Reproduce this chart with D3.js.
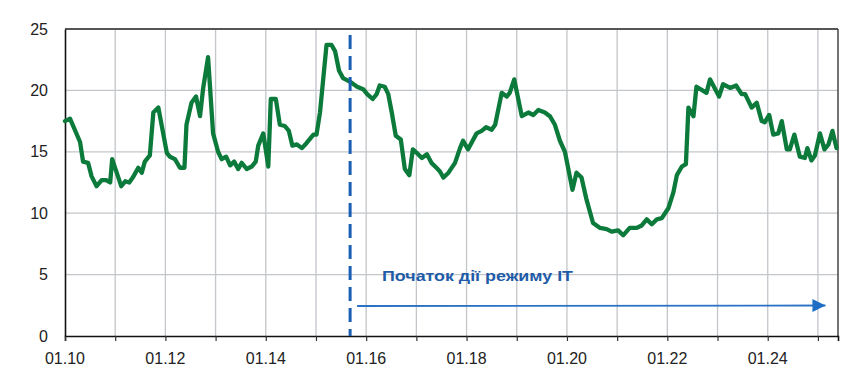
<!DOCTYPE html>
<html>
<head>
<meta charset="utf-8">
<script src="https://cdn.jsdelivr.net/npm/d3@7"></script>
<style>
  html, body { margin: 0; padding: 0; background: #fff; }
  svg { display: block; }
  text { font-family: "Liberation Sans", Arial, sans-serif; }
</style>
</head>
<body>
<svg id="chart" width="855" height="379"></svg>
<script>
// Time (decimal years) and values
const years = [
  2010.00, 2010.10, 2010.30, 2010.36, 2010.46, 2010.53, 2010.63, 2010.73, 2010.82, 2010.90, 2010.94,
  2011.03, 2011.12, 2011.20, 2011.28, 2011.35, 2011.46, 2011.53, 2011.59, 2011.69, 2011.76, 2011.86,
  2012.03, 2012.09, 2012.19, 2012.29, 2012.38, 2012.42, 2012.52, 2012.61, 2012.69, 2012.75, 2012.85, 2012.95,
  2013.05, 2013.12, 2013.21, 2013.29, 2013.37, 2013.45, 2013.52, 2013.62, 2013.72, 2013.80, 2013.85, 2013.95,
  2014.05, 2014.10, 2014.20, 2014.28, 2014.38, 2014.46, 2014.53, 2014.62, 2014.72, 2014.81, 2014.95,
  2015.01, 2015.08, 2015.21, 2015.31, 2015.38, 2015.46, 2015.54, 2015.68, 2015.82, 2015.94,
  2016.02, 2016.13, 2016.21, 2016.27, 2016.37, 2016.44, 2016.51, 2016.59, 2016.69, 2016.77, 2016.86, 2016.93,
  2017.01, 2017.11, 2017.21, 2017.30, 2017.40, 2017.47, 2017.54, 2017.64, 2017.77, 2017.87, 2017.93,
  2018.03, 2018.20, 2018.30, 2018.39, 2018.50, 2018.57, 2018.70, 2018.80, 2018.86, 2018.95,
  2019.10, 2019.23, 2019.33, 2019.43, 2019.56, 2019.66, 2019.76, 2019.86, 2019.96,
  2020.11, 2020.19, 2020.29, 2020.39, 2020.52, 2020.66, 2020.79, 2020.89,
  2021.02, 2021.12, 2021.25, 2021.39, 2021.49, 2021.59, 2021.69, 2021.79, 2021.89,
  2022.02, 2022.12, 2022.19, 2022.29, 2022.37, 2022.42, 2022.52, 2022.58, 2022.70, 2022.78, 2022.85,
  2023.03, 2023.11, 2023.25, 2023.37, 2023.48, 2023.55, 2023.68, 2023.78, 2023.88, 2023.94,
  2024.03, 2024.11, 2024.21, 2024.28, 2024.38, 2024.44, 2024.53, 2024.64, 2024.74, 2024.79, 2024.87, 2024.94,
  2025.04, 2025.13, 2025.21, 2025.29, 2025.37
];
const values = [
  17.5, 17.7, 15.8, 14.2, 14.1, 13.0, 12.2, 12.7, 12.7, 12.5, 14.4,
  13.3, 12.2, 12.6, 12.5, 12.9, 13.7, 13.3, 14.2, 14.7, 18.2, 18.6,
  14.9, 14.6, 14.4, 13.7, 13.7, 17.2, 19.0, 19.5, 17.9, 20.1, 22.7, 16.5,
  15.0, 14.4, 14.6, 13.9, 14.2, 13.6, 14.1, 13.6, 13.8, 14.2, 15.5, 16.5,
  13.8, 19.3, 19.3, 17.2, 17.1, 16.7, 15.5, 15.6, 15.3, 15.7, 16.4,
  16.4, 18.2, 23.7, 23.7, 23.2, 21.6, 21.0, 20.7, 20.3, 20.1,
  19.7, 19.3, 19.7, 20.4, 20.3, 19.7, 18.2, 16.3, 16.0, 13.6, 13.1, 15.2,
  14.9, 14.5, 14.8, 14.1, 13.7, 13.4, 12.9, 13.3, 14.1, 15.3, 15.9,
  15.2, 16.5, 16.7, 17.0, 16.8, 17.2, 19.8, 19.5, 19.8, 20.9,
  17.9, 18.2, 18.0, 18.4, 18.2, 17.9, 17.2, 15.9, 15.0,
  11.9, 13.3, 12.9, 11.1, 9.2, 8.8, 8.7, 8.5,
  8.6, 8.2, 8.8, 8.8, 9.0, 9.5, 9.1, 9.5, 9.6,
  10.4, 11.7, 13.1, 13.8, 14.0, 18.6, 17.9, 20.3, 20.0, 19.8, 20.9,
  19.5, 20.5, 20.2, 20.4, 19.7, 19.7, 18.6, 19.0, 17.5, 17.4,
  18.0, 16.4, 16.5, 17.5, 15.2, 15.2, 16.4, 14.6, 14.5, 15.3, 14.3, 14.7,
  16.5, 15.2, 15.6, 16.7, 15.3
];

const xGridYears = [2010, 2011, 2012, 2013, 2014, 2015, 2016, 2017, 2018, 2019, 2020, 2021, 2022, 2023, 2024, 2025];
const xLabelYears = [2010, 2012, 2014, 2016, 2018, 2020, 2022, 2024];
const xTickLabels = ["01.10", "01.12", "01.14", "01.16", "01.18", "01.20", "01.22", "01.24"];
const yTicks = [0, 5, 10, 15, 20, 25];
const regimeStart = 2015.68;
const arrowEnd = 2025.15;
const regimeLabel = "Початок дії режиму ІТ";

const svg = d3.select("#chart");
const L = 65, R = 838, T = 29, B = 336;

const x = d3.scaleLinear().domain([2010, 2025.40]).range([L, R]);
const y = d3.scaleLinear().domain([0, 25]).range([B, T]);

// grid
const grid = svg.append("g");
grid.selectAll(".vg").data(xGridYears.filter(d => d > 2010)).join("line")
  .attr("x1", d => x(d)).attr("x2", d => x(d))
  .attr("y1", T).attr("y2", B)
  .attr("stroke", "#c3c6ca").attr("stroke-width", 1.3);
grid.selectAll(".hg").data(yTicks.filter(d => d > 0 && d < 25)).join("line")
  .attr("x1", L).attr("x2", R)
  .attr("y1", d => y(d)).attr("y2", d => y(d))
  .attr("stroke", "#c3c6ca").attr("stroke-width", 1.3);

// frame
svg.append("line").attr("x1", L).attr("x2", R).attr("y1", T).attr("y2", T)
  .attr("stroke", "#555").attr("stroke-width", 2);
svg.append("line").attr("x1", R).attr("x2", R).attr("y1", T).attr("y2", B)
  .attr("stroke", "#444").attr("stroke-width", 1.5);

// x axis
const xAxis = d3.axisBottom(x).tickValues(xGridYears).tickSize(5).tickFormat("");
const gx = svg.append("g").attr("transform", `translate(0,${B})`).call(xAxis);
gx.select(".domain").attr("stroke", "#111").attr("stroke-width", 1.6);
gx.selectAll(".tick line").attr("stroke", "#333").attr("stroke-width", 1.2);
svg.append("g").selectAll("text").data(xLabelYears).join("text")
  .attr("x", d => x(d)).attr("y", 364)
  .attr("text-anchor", "middle")
  .attr("font-size", 16).attr("fill", "#222")
  .text((d, i) => xTickLabels[i]);

// y axis
const yAxis = d3.axisLeft(y).tickValues(yTicks).tickSize(0).tickPadding(17);
const gy = svg.append("g").attr("transform", `translate(${L},0)`).call(yAxis);
gy.select(".domain").attr("stroke", "#111").attr("stroke-width", 1.6);
gy.selectAll(".tick text").attr("font-size", 16).attr("fill", "#222")
  .attr("font-family", "Liberation Sans, Arial, sans-serif");

// series line
const line = d3.line().x((d, i) => x(years[i])).y(d => y(d));
svg.append("path").datum(values)
  .attr("fill", "none").attr("stroke", "#0b7a3b")
  .attr("stroke-width", 4.3).attr("stroke-linejoin", "round").attr("stroke-linecap", "round")
  .attr("d", line);

// regime start dashed line
svg.append("line")
  .attr("x1", x(regimeStart)).attr("x2", x(regimeStart))
  .attr("y1", 35).attr("y2", B)
  .attr("stroke", "#1a5fb4").attr("stroke-width", 3)
  .attr("stroke-dasharray", "14,7");

// arrow
const defs = svg.append("defs");
defs.append("marker").attr("id", "arr")
  .attr("viewBox", "0 0 10 10").attr("refX", 10).attr("refY", 5)
  .attr("markerUnits", "userSpaceOnUse")
  .attr("markerWidth", 14).attr("markerHeight", 13).attr("orient", "auto")
  .append("path").attr("d", "M0,0 L10,5 L0,10 Z").attr("fill", "#1f6cc4");
svg.append("line")
  .attr("x1", x(regimeStart) + 7).attr("x2", x(arrowEnd))
  .attr("y1", 306).attr("y2", 305.5)
  .attr("stroke", "#2a72c6").attr("stroke-width", 1.8)
  .attr("marker-end", "url(#arr)");

svg.append("text")
  .attr("x", 382).attr("y", 281)
  .attr("font-family", "DejaVu Sans, sans-serif")
  .attr("font-size", 14).attr("font-weight", "bold").attr("fill", "#1f5ca8")
  .attr("textLength", 191).attr("lengthAdjust", "spacingAndGlyphs")
  .text(regimeLabel);
</script>
</body>
</html>
